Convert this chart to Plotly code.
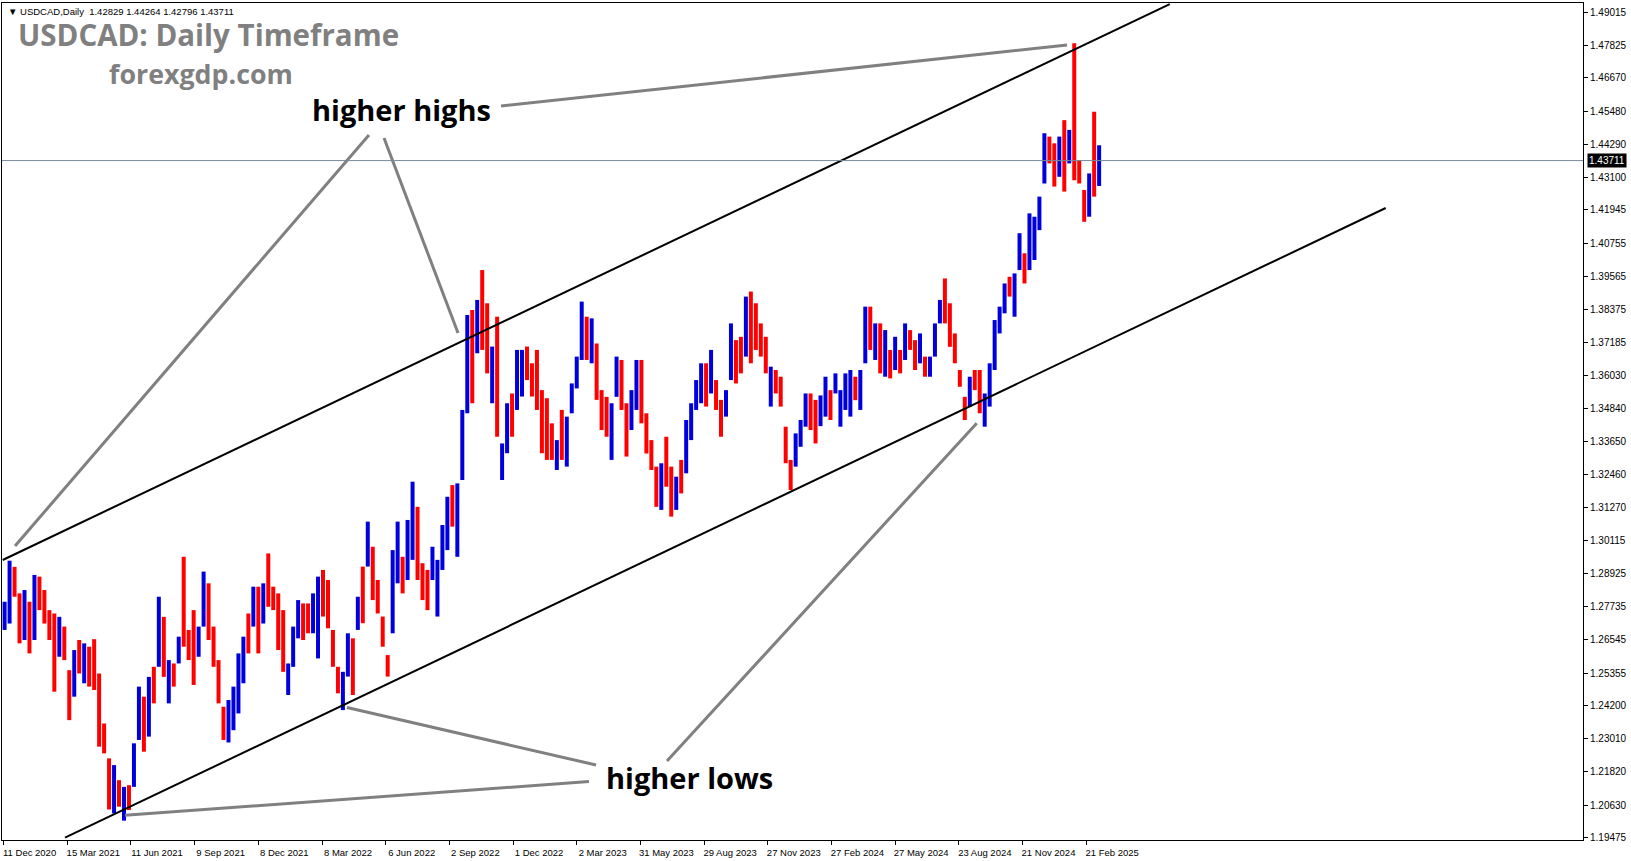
import plotly.graph_objects as go

# ---------------- data ----------------
# weekly-aggregated bars (each entry ~5 daily bars), price high / low / direction
week_high = [
    1.2791, 1.2938, 1.2916, 1.2821, 1.2833, 1.2791, 1.2887, 1.2881, 1.2833, 1.2761,
    1.2749, 1.2737, 1.2702, 1.2546, 1.2618, 1.2654, 1.2642, 1.2630, 1.2657, 1.2534,
    1.2355, 1.2230, 1.2206, 1.2152, 1.2128, 1.2134, 1.2284, 1.2487, 1.2451, 1.2522,
    1.2558, 1.2809, 1.2737, 1.2582, 1.2570, 1.2666, 1.2952, 1.2690, 1.2761, 1.2702,
    1.2899, 1.2857, 1.2702, 1.2582, 1.2415, 1.2439, 1.2487, 1.2606, 1.2666, 1.2749,
    1.2845, 1.2845, 1.2857, 1.2964, 1.2845, 1.2821, 1.2761, 1.2570, 1.2702, 1.2797,
    1.2785, 1.2785, 1.2821, 1.2881, 1.2905, 1.2869, 1.2690, 1.2558, 1.2540, 1.2678,
    1.2660, 1.2809, 1.2917, 1.3078, 1.2988, 1.2869, 1.2738, 1.2600, 1.2976, 1.3078,
    1.2952, 1.3084, 1.3221, 1.3131, 1.2929, 1.2905, 1.2988, 1.2941, 1.3066, 1.3167,
    1.3209, 1.3215, 1.3478, 1.3818, 1.3836, 1.3872, 1.3979, 1.3860, 1.3705, 1.3812,
    1.3358, 1.3502, 1.3537, 1.3693, 1.3693, 1.3705, 1.3645, 1.3693, 1.3549, 1.3520,
    1.3430, 1.3370, 1.3478, 1.3454, 1.3573, 1.3669, 1.3866, 1.3812, 1.3806, 1.3716,
    1.3549, 1.3525, 1.3502, 1.3669, 1.3657, 1.3502, 1.3549, 1.3657, 1.3657, 1.3466,
    1.3370, 1.3275, 1.3287, 1.3382, 1.3275, 1.3239, 1.3299, 1.3442, 1.3502, 1.3585,
    1.3645, 1.3645, 1.3693, 1.3585, 1.3514, 1.3549, 1.3788, 1.3728, 1.3740, 1.3884,
    1.3902, 1.3860, 1.3788, 1.3740, 1.3633, 1.3621, 1.3597, 1.3418, 1.3299, 1.3394,
    1.3442, 1.3537, 1.3537, 1.3514, 1.3530, 1.3597, 1.3549, 1.3609, 1.3549, 1.3609,
    1.3621, 1.3597, 1.3621, 1.3848, 1.3848, 1.3788, 1.3788, 1.3764, 1.3693, 1.3740,
    1.3693, 1.3788, 1.3764, 1.3728, 1.3752, 1.3669, 1.3669, 1.3788, 1.3872, 1.3949,
    1.3860, 1.3752, 1.3621, 1.3525, 1.3597, 1.3621, 1.3621, 1.3537, 1.3645, 1.3800,
    1.3848, 1.3931, 1.3955, 1.3967, 1.4111, 1.4039, 1.4182, 1.4170, 1.4242, 1.4469,
    1.4457, 1.4433, 1.4457, 1.4516, 1.4481, 1.4791, 1.4373, 1.4266, 1.4325, 1.4546,
    1.4426,
]
week_low = [
    1.2690, 1.2713, 1.2809, 1.2642, 1.2654, 1.2606, 1.2654, 1.2761, 1.2713, 1.2654,
    1.2469, 1.2594, 1.2582, 1.2367, 1.2451, 1.2534, 1.2499, 1.2487, 1.2475, 1.2272,
    1.2248, 1.2047, 1.2033, 1.2057, 1.2007, 1.2045, 1.2128, 1.2296, 1.2254, 1.2308,
    1.2427, 1.2558, 1.2522, 1.2427, 1.2487, 1.2570, 1.2630, 1.2582, 1.2493, 1.2594,
    1.2702, 1.2654, 1.2558, 1.2427, 1.2296, 1.2287, 1.2331, 1.2391, 1.2499, 1.2606,
    1.2702, 1.2606, 1.2713, 1.2773, 1.2761, 1.2618, 1.2540, 1.2457, 1.2558, 1.2660,
    1.2654, 1.2678, 1.2678, 1.2588, 1.2738, 1.2696, 1.2558, 1.2463, 1.2403, 1.2523,
    1.2457, 1.2690, 1.2714, 1.2917, 1.2797, 1.2749, 1.2630, 1.2523, 1.2678, 1.2857,
    1.2821, 1.2869, 1.2941, 1.2869, 1.2797, 1.2761, 1.2869, 1.2738, 1.2905, 1.2976,
    1.3060, 1.2952, 1.3227, 1.3466, 1.3502, 1.3681, 1.3693, 1.3609, 1.3502, 1.3382,
    1.3227, 1.3323, 1.3382, 1.3478, 1.3526, 1.3585, 1.3526, 1.3478, 1.3323, 1.3299,
    1.3299, 1.3263, 1.3299, 1.3275, 1.3466, 1.3555, 1.3657, 1.3657, 1.3645, 1.3514,
    1.3406, 1.3382, 1.3299, 1.3525, 1.3478, 1.3311, 1.3406, 1.3478, 1.3430, 1.3322,
    1.3263, 1.3131, 1.3120, 1.3203, 1.3096, 1.3120, 1.3179, 1.3251, 1.3370, 1.3478,
    1.3502, 1.3490, 1.3537, 1.3478, 1.3382, 1.3454, 1.3585, 1.3573, 1.3609, 1.3669,
    1.3645, 1.3693, 1.3669, 1.3609, 1.3490, 1.3537, 1.3490, 1.3287, 1.3191, 1.3275,
    1.3346, 1.3418, 1.3406, 1.3358, 1.3420, 1.3454, 1.3442, 1.3537, 1.3418, 1.3478,
    1.3454, 1.3513, 1.3478, 1.3645, 1.3693, 1.3657, 1.3609, 1.3597, 1.3591, 1.3621,
    1.3609, 1.3657, 1.3693, 1.3621, 1.3645, 1.3597, 1.3597, 1.3669, 1.3788, 1.3788,
    1.3704, 1.3645, 1.3561, 1.3442, 1.3490, 1.3549, 1.3466, 1.3418, 1.3490, 1.3621,
    1.3752, 1.3824, 1.3884, 1.3812, 1.3979, 1.3931, 1.3979, 1.4015, 1.4122, 1.4289,
    1.4361, 1.4278, 1.4313, 1.4260, 1.4361, 1.4301, 1.4289, 1.4152, 1.4170, 1.4242,
    1.4280,
]
week_dir = (
    "u u d d u d u d d d "
    "d u d d u d u d d d "
    "d d u d u d u u d u "
    "d u d u d u d d d u "
    "u d d d d u u u u d "
    "u d u d d d d u u u "
    "d d u u d d d d u u "
    "d u d u d d d d u u "
    "d u u d d d u u u u "
    "d u u u d u d d u d "
    "u u d u u d d d d d "
    "d u d u u u u d u d "
    "d d u u d d u u d d "
    "d d u d d u d u u u "
    "u d u d d u u d d u "
    "d d d d u d d d d u "
    "u u d d u u d u u u "
    "u d u u d u d u d u "
    "d u d d u d u u u d "
    "d d d d u d d u u u "
    "u u d u u d u u u u "
    "d d u d u d d d u d "
    "u"
).split()
bars_per_week = 5

# last daily bar (header values)
last_open, last_high, last_low, last_close = 1.42829, 1.44264, 1.42796, 1.43711

# x-axis (bar index) labels
tick_bars = [0, 64, 128, 192, 256, 320, 384, 448, 512, 576, 640, 704, 768, 832, 896, 960, 1024, 1088]
tick_dates = ["11 Dec 2020", "15 Mar 2021", "11 Jun 2021", "9 Sep 2021", "8 Dec 2021",
              "8 Mar 2022", "6 Jun 2022", "2 Sep 2022", "1 Dec 2022", "2 Mar 2023",
              "31 May 2023", "29 Aug 2023", "27 Nov 2023", "27 Feb 2024", "27 May 2024",
              "23 Aug 2024", "21 Nov 2024", "21 Feb 2025"]
price_ticks = [1.49015, 1.47825, 1.46670, 1.45480, 1.44290, 1.43100, 1.41945, 1.40755,
               1.39565, 1.38375, 1.37185, 1.36030, 1.34840, 1.33650, 1.32460, 1.31270,
               1.30115, 1.28925, 1.27735, 1.26545, 1.25355, 1.24200, 1.23010, 1.21820,
               1.20630, 1.19475]

# channel lines (bar index, price)
upper_channel = [(-0.9, 1.29406), (1172.0, 1.49315)]
lower_channel = [(61.7, 1.19459), (1389.0, 1.42013)]
# grey pointer lines (bar index, price) -> (bar index, price)
pointer_lines = [
    ((367.2, 1.44628), (11.5, 1.29907)),
    ((382.3, 1.44520), (456.7, 1.37536)),
    ((499.9, 1.45666), (1068.8, 1.47851)),
    ((595.4, 1.22063), (345.1, 1.24123)),
    ((588.3, 1.21472), (122.0, 1.20262)),
    ((666.7, 1.22206), (978.0, 1.34302)),
]

# ---------------- layout constants ----------------
W, H = 1631, 861
ML, MR, MT, MB = 2, 48, 3, 21
PW, PH = W - ML - MR, H - MT - MB
x_range = [-1.61, 1587.3]
y_range = [1.19377, 1.49355]
BLUE, RED = "#0000DD", "#FF0000"


def pxx(px):
    return (px - ML) / PW


def pxy(py):
    return (H - MB - py) / PH


fig = go.Figure()

ub_x, ub_y, dn_x, dn_y = [], [], [], []
for k, (hi, lo, d) in enumerate(zip(week_high, week_low, week_dir)):
    xb = k * bars_per_week + 1
    if d == "u":
        ub_x += [xb, xb, None]
        ub_y += [lo, hi, None]
    else:
        dn_x += [xb, xb, None]
        dn_y += [lo, hi, None]

fig.add_trace(go.Scatter(x=dn_x, y=dn_y, mode="lines", line=dict(color=RED, width=4),
                         hoverinfo="skip", showlegend=False))
fig.add_trace(go.Scatter(x=ub_x, y=ub_y, mode="lines", line=dict(color=BLUE, width=4),
                         hoverinfo="skip", showlegend=False))

shapes = []
for (a, b) in (upper_channel, lower_channel):
    shapes.append(dict(type="line", xref="x", yref="y", x0=a[0], y0=a[1], x1=b[0], y1=b[1],
                       line=dict(color="black", width=2)))
for (a, b) in pointer_lines:
    shapes.append(dict(type="line", xref="x", yref="y", x0=a[0], y0=a[1], x1=b[0], y1=b[1],
                       line=dict(color="#808080", width=3)))
shapes.append(dict(type="line", xref="paper", yref="y", x0=0, x1=1, y0=last_close, y1=last_close,
                   line=dict(color="#778899", width=1)))

annotations = [
    dict(text="▼ USDCAD,Daily  %.5f %.5f %.5f %.5f" % (last_open, last_high, last_low, last_close),
         xref="paper", yref="paper", x=pxx(6), y=pxy(11), xanchor="left", yanchor="middle",
         showarrow=False, font=dict(family="Liberation Sans", size=9.5, color="black")),
    dict(text="<b>USDCAD: Daily Timeframe</b>", xref="paper", yref="paper", x=pxx(16), y=pxy(35),
         xanchor="left", yanchor="middle", showarrow=False,
         font=dict(family="Open Sans", size=29.5, color="#808080")),
    dict(text="<b>forexgdp.com</b>", xref="paper", yref="paper", x=pxx(107), y=pxy(74),
         xanchor="left", yanchor="middle", showarrow=False,
         font=dict(family="Open Sans", size=26.8, color="#808080")),
    dict(text="<b>higher highs</b>", xref="paper", yref="paper", x=pxx(310), y=pxy(110),
         xanchor="left", yanchor="middle", showarrow=False,
         font=dict(family="Open Sans", size=29, color="black")),
    dict(text="<b>higher lows</b>", xref="paper", yref="paper", x=pxx(604), y=pxy(777),
         xanchor="left", yanchor="middle", showarrow=False,
         font=dict(family="Open Sans", size=29, color="black")),
    dict(text="%.5f" % last_close, xref="paper", yref="y", x=1, y=last_close, xanchor="left",
         yanchor="middle", xshift=4, showarrow=False, bgcolor="black", borderpad=1,
         font=dict(family="Liberation Sans", size=10, color="white")),
]

fig.update_layout(
    width=W, height=H, margin=dict(l=ML, r=MR, t=MT, b=MB, autoexpand=False),
    paper_bgcolor="white", plot_bgcolor="white", showlegend=False,
    shapes=shapes, annotations=annotations,
    xaxis=dict(range=x_range, tickmode="array", tickvals=tick_bars, ticktext=tick_dates,
               ticks="outside", ticklen=4, tickcolor="black", showgrid=False, zeroline=False,
               showline=True, linecolor="black", linewidth=1, mirror=True,
               tickfont=dict(family="Liberation Sans", size=9.5, color="black"),
               ticklabelshift=26, fixedrange=True),
    yaxis=dict(range=y_range, side="right", tickmode="array", tickvals=price_ticks,
               ticktext=["%.5f" % v for v in price_ticks], ticks="outside", ticklen=4,
               tickcolor="black", showgrid=False, zeroline=False, showline=True,
               linecolor="black", linewidth=1, mirror=True,
               tickfont=dict(family="Liberation Sans", size=10, color="black"), fixedrange=True),
)

fig.write_html("out.html", config={"displayModeBar": False},
               post_script="document.body.style.margin='0px';document.body.style.overflow='hidden';")
